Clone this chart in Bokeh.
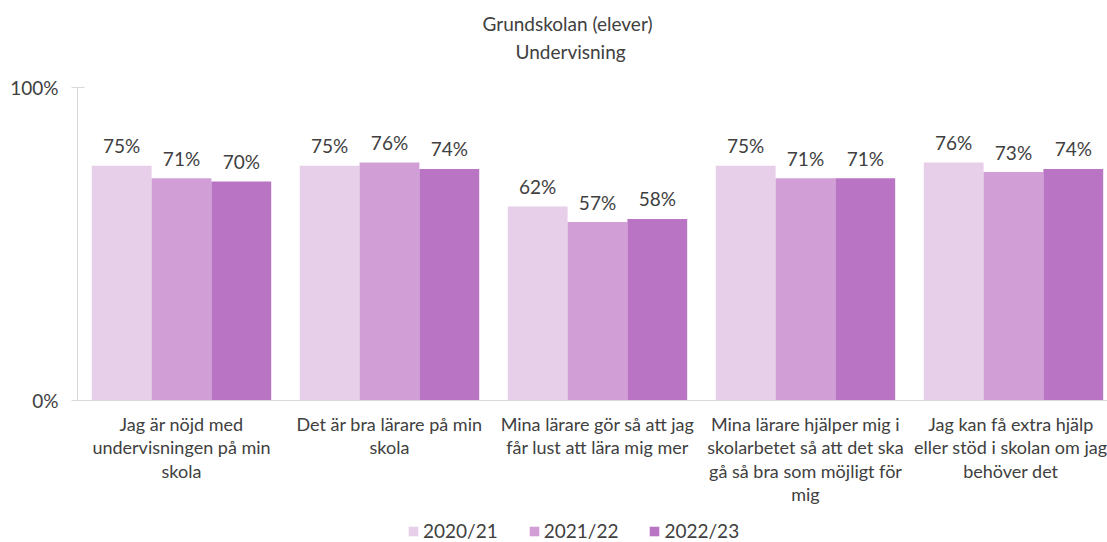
from bokeh.plotting import figure
from bokeh.models import (ColumnDataSource, FixedTicker, Range1d, Legend, LegendItem, Title)
from bokeh.layouts import column
from bokeh.transform import dodge
from bokeh.core.properties import value
from bokeh.embed import file_html
from bokeh.resources import INLINE

# ---- data ----
categories = [
    "Jag är nöjd med\nundervisningen på min\nskola",
    "Det är bra lärare på min\nskola",
    "Mina lärare gör så att jag\nfår lust att lära mig mer",
    "Mina lärare hjälper mig i\nskolarbetet så att det ska\ngå så bra som möjligt för\nmig",
    "Jag kan få extra hjälp\neller stöd i skolan om jag\nbehöver det",
]
years = ["2020/21", "2021/22", "2022/23"]
v2021 = [75, 75, 62, 75, 76]
v2122 = [71, 76, 57, 71, 73]
v2223 = [70, 74, 58, 71, 74]
y_ticks = [0, 100]
y_tick_labels = ["0%", "100%"]

colors = ["#E8CFE9", "#D19FD6", "#BA74C4"]
FONT = "Lato"
TXT = "#404040"

xs = list(range(len(categories)))
src = ColumnDataSource(dict(
    x=xs,
    v0=v2021, v1=v2122, v2=v2223,
    l0=[f"{v}%" for v in v2021],
    l1=[f"{v}%" for v in v2122],
    l2=[f"{v}%" for v in v2223],
))

p = figure(width=1107, height=512, output_backend="svg", toolbar_location=None,
           x_range=Range1d(-0.5, 4.452), y_range=Range1d(0, 100),
           min_border_left=77, min_border_right=0, min_border_bottom=112,
           min_border_top=87)
p.outline_line_color = None
p.xgrid.grid_line_color = None
p.ygrid.grid_line_color = None

bw = 0.2875
offs = [-bw, 0.0, bw]
for i, off in enumerate(offs):
    p.vbar(x=dodge("x", off), top=f"v{i}", width=bw, source=src,
           fill_color=colors[i], line_color=None)
    p.text(x=dodge("x", off), y=f"v{i}", text=f"l{i}", source=src,
           text_align="center", text_baseline="middle", y_offset=-20,
           text_font=value(FONT), text_font_size="19px", text_color=TXT)

# y axis
p.yaxis.ticker = FixedTicker(ticks=y_ticks)
p.yaxis.major_label_overrides = {t: l for t, l in zip(y_ticks, y_tick_labels)}
p.yaxis.axis_line_color = "#D9D9D9"
p.yaxis.major_tick_line_color = "#D9D9D9"
p.yaxis.major_tick_in = 7
p.yaxis.major_tick_out = 6
p.yaxis.minor_tick_line_color = None
p.yaxis.major_label_text_font = FONT
p.yaxis.major_label_text_font_size = "19px"
p.yaxis.major_label_text_color = TXT
p.yaxis.major_label_standoff = 13

# x axis
p.xaxis.ticker = FixedTicker(ticks=xs)
p.xaxis.major_label_overrides = {x: c for x, c in zip(xs, categories)}
p.xaxis.axis_line_color = "#D9D9D9"
p.xaxis.major_tick_line_color = None
p.xaxis.minor_tick_line_color = None
p.xaxis.major_label_text_font = FONT
p.xaxis.major_label_text_font_size = "18px"
p.xaxis.major_label_text_color = TXT
p.xaxis.major_label_text_line_height = 1.07
p.xaxis.major_label_standoff = 6

# titles (white spacer nearest the plot, then subtitle, then title)
p.add_layout(Title(text=".", align="left", text_font=FONT,
                   text_font_size="19px", text_color="#FFFFFF", standoff=4), "above")
p.add_layout(Title(text="Undervisning", align="left", text_font=FONT,
                   text_font_size="19px", text_font_style="normal",
                   text_color=TXT, offset=438, standoff=10), "above")
p.add_layout(Title(text="Grundskolan (elever)", align="left", text_font=FONT,
                   text_font_size="19px", text_font_style="normal",
                   text_color=TXT, offset=405, standoff=-4), "above")

# legend strip (its frame is aligned with the main plot's frame)
pl = figure(width=1107, height=30, output_backend="svg", toolbar_location=None,
            x_range=Range1d(0, 1), y_range=Range1d(0, 1),
            x_axis_location=None, y_axis_location=None, min_border=0)
pl.outline_line_color = None
pl.center = []
leg_renderers = [pl.vbar(x=[0.5], top=[0], bottom=[0], width=0.01,
                         fill_color=c, line_color=None)
                 for c in colors]
legend = Legend(items=[LegendItem(label=y, renderers=[r]) for y, r in zip(years, leg_renderers)],
                orientation="horizontal", location=(330, 0),
                background_fill_alpha=0, border_line_color=None,
                padding=0, margin=0, spacing=30, label_standoff=4,
                glyph_width=12, glyph_height=12,
                label_text_font=FONT, label_text_font_size="19px",
                label_text_color=TXT)
pl.add_layout(legend, "center")

layout = column(p, pl)
open("out.html", "w").write(file_html(layout, INLINE))
